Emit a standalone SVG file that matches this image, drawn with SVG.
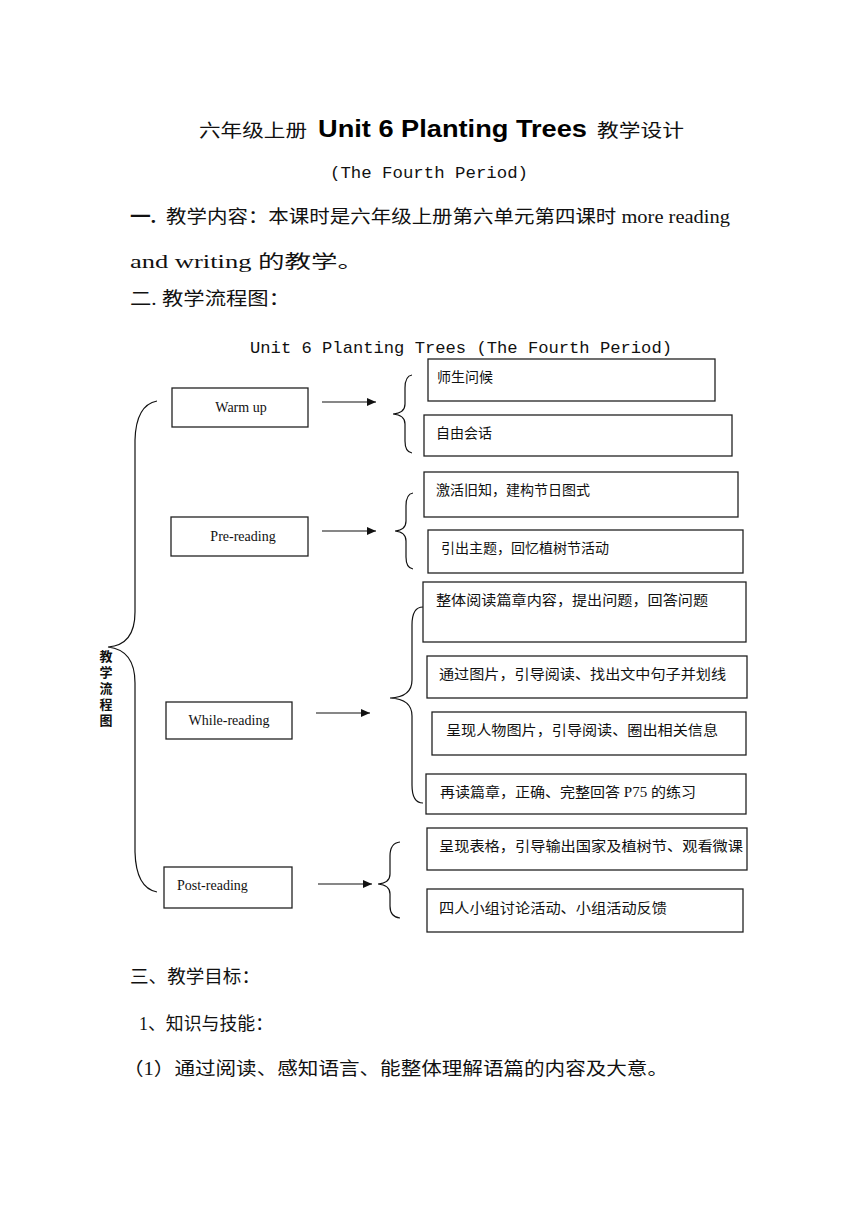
<svg xmlns="http://www.w3.org/2000/svg" width="860" height="1216" viewBox="0 0 860 1216">
<style>
.doc{font-family:"Liberation Serif","Noto Sans CJK SC",serif;font-size:18px;fill:#111}
.mono{font-family:"Liberation Mono","Noto Sans CJK SC",monospace;font-size:17px;fill:#111}
.bold{font-family:"Liberation Sans","Noto Sans CJK SC",sans-serif;font-weight:900;font-size:23px;fill:#000}
.box{fill:#fff;stroke:#222;stroke-width:1.3}
.bt{font-family:"Liberation Serif","Noto Sans CJK SC",serif;font-size:14px;fill:#111}
.lbl{font-family:"Liberation Serif",serif;font-size:14px;fill:#111}
.conn{fill:none;stroke:#111;stroke-width:1.2}
.vt{font-family:"Noto Sans CJK SC",sans-serif;font-weight:700;font-size:13px;fill:#111;writing-mode:vertical-rl;letter-spacing:3px}
</style>
<defs>
<marker id="ah" markerWidth="10" markerHeight="10" refX="9" refY="5" orient="auto" markerUnits="userSpaceOnUse">
<path d="M0,1 L9,5 L0,9 Z" fill="#111"/>
</marker>
</defs>
<rect width="860" height="1216" fill="#fff"/>

<g id="header">
<text class="doc" x="199" y="137" font-size="21" textLength="108" lengthAdjust="spacingAndGlyphs">六年级上册</text>
<text class="bold" x="318" y="137" textLength="269" lengthAdjust="spacingAndGlyphs">Unit 6 Planting Trees</text>
<text class="doc" x="597" y="137" font-size="21" textLength="87" lengthAdjust="spacingAndGlyphs">教学设计</text>
<text class="mono" x="330" y="178" textLength="198" lengthAdjust="spacingAndGlyphs">(The Fourth Period)</text>
<text class="doc" x="130" y="223" font-weight="700" textLength="26" lengthAdjust="spacingAndGlyphs">一.</text>
<text class="doc" x="166" y="223" textLength="564" lengthAdjust="spacingAndGlyphs">教学内容：本课时是六年级上册第六单元第四课时 more reading</text>
<text class="doc" x="130" y="268" textLength="234" lengthAdjust="spacingAndGlyphs">and writing 的教学。</text>
<text class="doc" x="130" y="305" textLength="160" lengthAdjust="spacingAndGlyphs">二. 教学流程图：</text>
<text class="mono" x="250" y="353" textLength="422" lengthAdjust="spacingAndGlyphs">Unit 6 Planting Trees  (The Fourth Period)</text>
</g>

<g id="connectors">
<path class="conn" d="M157,401 Q136,405 135,440 L135,612 Q135,645 108,647 Q135,650 135,683 L135,852 Q136,888 157,892"/>
<line class="conn" x1="322" y1="402" x2="376" y2="402" marker-end="url(#ah)"/>
<line class="conn" x1="322" y1="531" x2="376" y2="531" marker-end="url(#ah)"/>
<line class="conn" x1="316" y1="713" x2="370" y2="713" marker-end="url(#ah)"/>
<line class="conn" x1="318" y1="884" x2="372" y2="884" marker-end="url(#ah)"/>
<path class="conn" d="M412,375 Q405,376 405,388 L405,404 Q405,413 393,414 Q405,415 405,424 L405,441 Q405,452 412,453"/>
<path class="conn" d="M413,493 Q406,494 406,506 L406,521 Q406,530 395,531 Q406,532 406,541 L406,557 Q406,568 413,569"/>
<path class="conn" d="M423,607 Q412,607 412,625 L412,680 Q412,697 390,698 Q412,699 412,716 L412,785 Q412,803 423,803"/>
<path class="conn" d="M400,842 Q390,843 390,856 L390,874 Q390,883 378,884 Q390,885 390,894 L390,906 Q390,917 400,918"/>
</g>

<g id="label-flow">
<text class="vt" x="106" y="650">教学流程图</text>
</g>

<g id="warm-up">
<rect class="box" x="172" y="388" width="136" height="39"/>
<text class="lbl" x="241" y="412" text-anchor="middle">Warm up</text>
</g>
<g id="pre-reading">
<rect class="box" x="171" y="517" width="137" height="39"/>
<text class="lbl" x="243" y="541" text-anchor="middle">Pre-reading</text>
</g>
<g id="while-reading">
<rect class="box" x="166" y="702" width="126" height="37"/>
<text class="lbl" x="229" y="725" text-anchor="middle">While-reading</text>
</g>
<g id="post-reading">
<rect class="box" x="164" y="867" width="128" height="41"/>
<text class="lbl" x="177" y="890">Post-reading</text>
</g>

<g id="w1">
<rect class="box" x="428" y="359" width="287" height="42"/>
<text class="bt" x="437" y="382">师生问候</text>
</g>
<g id="w2">
<rect class="box" x="424" y="415" width="308" height="41"/>
<text class="bt" x="436" y="438">自由会话</text>
</g>
<g id="p1">
<rect class="box" x="424" y="472" width="314" height="45"/>
<text class="bt" x="436" y="495">激活旧知，建构节日图式</text>
</g>
<g id="p2">
<rect class="box" x="428" y="530" width="315" height="43"/>
<text class="bt" x="441" y="553">引出主题，回忆植树节活动</text>
</g>
<g id="r1">
<rect class="box" x="423" y="582" width="323" height="60"/>
<text class="bt" x="436" y="605" textLength="272" lengthAdjust="spacingAndGlyphs">整体阅读篇章内容，提出问题，回答问题</text>
</g>
<g id="r2">
<rect class="box" x="427" y="656" width="320" height="42"/>
<text class="bt" x="439" y="679" textLength="287" lengthAdjust="spacingAndGlyphs">通过图片，引导阅读、找出文中句子并划线</text>
</g>
<g id="r3">
<rect class="box" x="432" y="712" width="314" height="43"/>
<text class="bt" x="446" y="735" textLength="272" lengthAdjust="spacingAndGlyphs">呈现人物图片，引导阅读、圈出相关信息</text>
</g>
<g id="r4">
<rect class="box" x="426" y="774" width="320" height="40"/>
<text class="bt" x="440" y="797" textLength="256" lengthAdjust="spacingAndGlyphs">再读篇章，正确、完整回答 P75 的练习</text>
</g>
<g id="o1">
<rect class="box" x="427" y="828" width="320" height="42"/>
<text class="bt" x="439" y="851" textLength="304" lengthAdjust="spacingAndGlyphs">呈现表格，引导输出国家及植树节、观看微课</text>
</g>
<g id="o2">
<rect class="box" x="427" y="889" width="316" height="43"/>
<text class="bt" x="439" y="913" textLength="228" lengthAdjust="spacingAndGlyphs">四人小组讨论活动、小组活动反馈</text>
</g>

<g id="footer">
<text class="doc" x="130" y="983" textLength="130" lengthAdjust="spacingAndGlyphs">三、教学目标：</text>
<text class="doc" x="139" y="1030" textLength="134" lengthAdjust="spacingAndGlyphs">1、知识与技能：</text>
<text class="doc" x="123" y="1075" textLength="545" lengthAdjust="spacingAndGlyphs">（1）通过阅读、感知语言、能整体理解语篇的内容及大意。</text>
</g>
</svg>
